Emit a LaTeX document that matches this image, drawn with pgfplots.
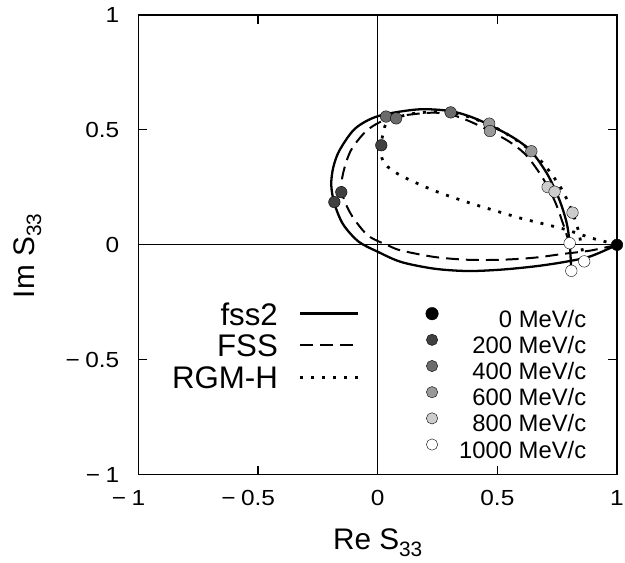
\documentclass[border=0pt]{standalone}
\usepackage{fontspec}
\setmainfont{Liberation Sans}
\newfontfamily\tickfam{Liberation Sans}[FakeStretch=1.12]
\usepackage{pgfplots}
\usepackage{pgfplotstable}
\pgfplotsset{compat=1.18}

\definecolor{c200}{gray}{0.25}
\definecolor{c400}{gray}{0.42}
\definecolor{c600}{gray}{0.60}
\definecolor{c800}{gray}{0.80}

\newcommand{\sub}[1]{\raisebox{-7bp}{\fontsize{21}{21}\selectfont #1}}
\newcommand{\tf}{\tickfam\fontsize{22}{26}\selectfont}

\pgfplotstableread{
x y
1 0
0.889 -0.050
0.778 -0.075
0.654 -0.094
0.515 -0.108
0.376 -0.114
0.238 -0.104
0.099 -0.075
0.000 -0.030
-0.081 0.015
-0.145 0.090
-0.181 0.180
-0.194 0.260
-0.186 0.335
-0.160 0.410
-0.095 0.505
0.002 0.560
0.168 0.589
0.307 0.581
0.418 0.545
0.556 0.473
0.640 0.408
0.709 0.307
0.758 0.199
0.789 0.098
0.802 0.007
0.809 -0.113
}\fsstwo

\pgfplotstableread{
x y
1 0
0.889 -0.025
0.778 -0.039
0.654 -0.056
0.515 -0.065
0.376 -0.065
0.238 -0.053
0.099 -0.025
0.044 -0.003
-0.040 0.040
-0.105 0.122
-0.140 0.195
-0.152 0.257
-0.140 0.330
-0.109 0.416
-0.040 0.502
0.057 0.553
0.210 0.574
0.300 0.568
0.400 0.530
0.540 0.455
0.620 0.390
0.690 0.290
0.740 0.190
0.775 0.090
0.795 0.025
0.802 0.007
}\fss

\pgfplotstableread{
x y
1 0
0.935 0.018
0.885 0.032
0.790 0.065
0.690 0.092
0.600 0.115
0.515 0.141
0.376 0.185
0.238 0.235
0.099 0.300
0.030 0.351
0.013 0.401
0.015 0.433
0.023 0.488
0.044 0.538
0.127 0.567
0.220 0.578
0.305 0.576
0.400 0.550
0.500 0.505
0.580 0.455
0.650 0.400
0.710 0.330
0.770 0.240
0.814 0.140
0.840 0.055
0.863 -0.072
}\rgmh

\pgfplotsset{
  base/.style={width=481bp,height=462bp,scale only axis,
    xmin=-1,xmax=1,ymin=-1,ymax=1,at={(0,0)},anchor=south west},
}

\begin{document}
\begin{tikzpicture}
\path[use as bounding box] (-139bp,-88bp) rectangle (489bp,477bp);
\begin{axis}[base,
  /pgf/number format/assume math mode=true,
  axis line style={line width=1.3bp},
  tick style={line width=1.1bp,black},
  major tick length=9bp, tick align=inside, tick pos=both,
  xtick={-1,-0.5,0,0.5,1}, ytick={-1,-0.5,0,0.5,1},
  xticklabels={{\llap{−\hspace{0.25em}}1},{\llap{−\hspace{0.25em}}0.5},0,0.5,1},
  yticklabels={{−\hspace{0.25em}1},{−\hspace{0.25em}0.5},0,0.5,1},
  tick label style={font=\tf},
  xticklabel style={font=\tf,inner sep=0pt,text height=15.7bp,text depth=0pt,yshift=-15bp},
  yticklabel style={font=\tf,inner sep=0pt,xshift=-19bp},
  xlabel={Re S\sub{33}}, ylabel={Im S\sub{33}},
  label style={font=\fontsize{30}{36}\selectfont},
  xlabel style={at={([yshift=-68.4bp]axis description cs:0.5,0)},anchor=center},
  ylabel style={at={([xshift=-111.6bp]axis description cs:0,0.476)},anchor=center},
  legend style={draw=none,fill=none,inner sep=0pt,outer sep=0pt,
    at={(axis description cs:0.4615,0.376)},anchor=north east,
    font=\fontsize{31.5}{31}\selectfont,row sep=8.6bp,column sep=21bp,
    nodes={inner sep=0pt,text height=23.4bp,text depth=0pt}},
  legend plot pos=right, legend cell align=right,
  legend image code/.code={\draw[#1] (0bp,0bp) -- (58bp,0bp);},
]
\addplot[black,line width=1.1bp,forget plot] coordinates {(-1,0) (1,0)};
\addplot[black,line width=1.1bp,forget plot] coordinates {(0,-1) (0,1)};
\addplot[black,line width=2.3bp,smooth,tension=0.5] table[x=x,y=y] {\fsstwo};
\addlegendentry{fss2}
\addplot[black,line width=2bp,smooth,tension=0.5,dash pattern=on 13bp off 7bp] table[x=x,y=y] {\fss};
\addlegendentry{FSS}
\addplot[black,line width=2.8bp,smooth,tension=0.5,dash pattern=on 3bp off 8bp] table[x=x,y=y] {\rgmh};
\addlegendentry{RGM-H}
\end{axis}
\begin{axis}[base, hide axis,
  legend style={draw=none,fill=none,inner sep=0pt,outer sep=0pt,
    at={(axis description cs:0.9356,0.3639)},anchor=north east,
    font=\fontsize{24}{24}\selectfont,row sep=7bp,column sep=21bp,
    nodes={inner sep=0pt,text height=17.2bp,text depth=0pt}},
  legend cell align=right,
  legend image code/.code={\draw[#1,mark size=5.7bp] plot coordinates {(0bp,5bp)};},
  mark options={draw=black,line width=0.9bp},
]
\addplot[only marks,mark=*,mark size=5.8bp,mark options={fill=black},
  legend image code/.code={\draw[##1,mark size=6.3bp] plot coordinates {(0bp,5bp)};}]
  coordinates {(1,0)};
\addlegendentry{0 MeV/c}
\addplot[only marks,mark=*,mark size=5.8bp,mark options={fill=c200}]
  coordinates {(-0.181,0.186) (-0.152,0.229) (0.015,0.433)};
\addlegendentry{200 MeV/c}
\addplot[only marks,mark=*,mark size=5.8bp,mark options={fill=c400}]
  coordinates {(0.035,0.558) (0.077,0.550) (0.305,0.576)};
\addlegendentry{400 MeV/c}
\addplot[only marks,mark=*,mark size=5.8bp,mark options={fill=c600}]
  coordinates {(0.466,0.527) (0.469,0.495) (0.642,0.407)};
\addlegendentry{600 MeV/c}
\addplot[only marks,mark=*,mark size=5.8bp,mark options={fill=c800}]
  coordinates {(0.710,0.251) (0.739,0.231) (0.814,0.140)};
\addlegendentry{800 MeV/c}
\addplot[only marks,mark=*,mark size=5.8bp,mark options={fill=white}]
  coordinates {(0.802,0.007) (0.809,-0.113) (0.863,-0.072)};
\addlegendentry{1000 MeV/c}
\end{axis}
\end{tikzpicture}
\end{document}
